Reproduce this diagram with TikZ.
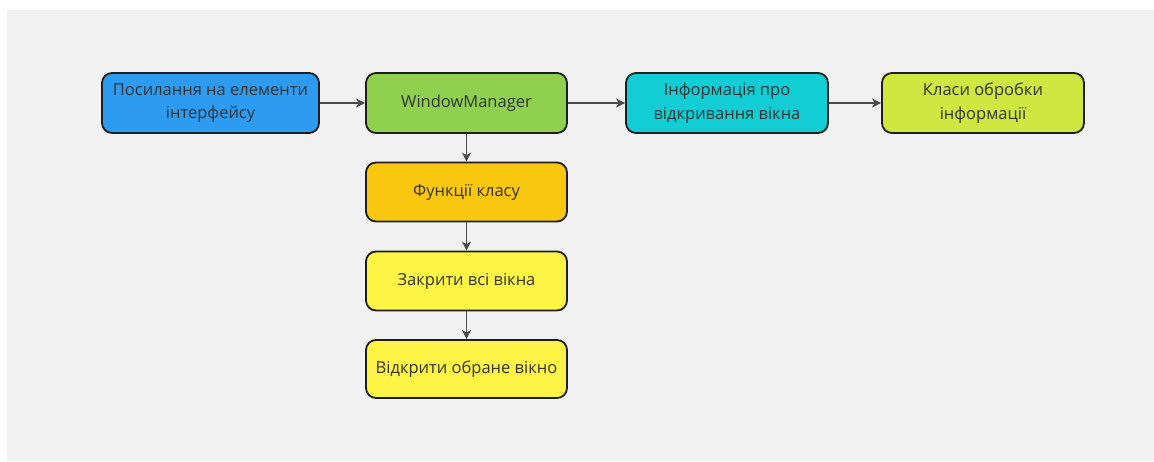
\documentclass[tikz,border=0pt]{standalone}
\usepackage{fontspec}
\setmainfont{Open Sans}
\usetikzlibrary{arrows.meta}
\definecolor{bgray}{HTML}{F1F1F1}
\definecolor{cblue}{HTML}{2D9BF0}
\definecolor{cgreen}{HTML}{8FD14F}
\definecolor{ccyan}{HTML}{12CDD4}
\definecolor{clime}{HTML}{CEE741}
\definecolor{corange}{HTML}{FAC710}
\definecolor{cyellow}{HTML}{FEF445}
\definecolor{ctext}{HTML}{333333}
\definecolor{cedge}{HTML}{1E1E1E}
\definecolor{carrow}{HTML}{4A4A4A}
\tikzset{
  box/.style={draw=cedge, line width=1.8pt, rounded corners=10pt,
    minimum width=#1, text=ctext, align=center, inner sep=0pt,
    font=\fontsize{16.5}{23.5}\selectfont},
  box/.default=201pt,
  link/.style={draw=carrow, line width=1.3pt,
    -{Stealth[length=9pt,width=9pt,inset=2.5pt]}},
}
\begin{document}
\begin{tikzpicture}[x=1pt,y=-1pt]
  \useasboundingbox (0,0) rectangle (1154,461);
  \fill[bgray] (7,10) rectangle (1154,461);

  % top row
  \node[box=217pt, fill=cblue, minimum height=60pt] (refs) at (210.5,103)
    {Посилання на елементи\\інтерфейсу};
  \node[box, fill=cgreen, minimum height=60pt] (wm) at (466.5,103)
    {WindowManager};
  \node[box=202pt, fill=ccyan, minimum height=60pt] (info) at (727,103)
    {Інформація про\\відкривання вікна};
  \node[box=202pt, fill=clime, minimum height=60pt] (proc) at (983,103)
    {Класи обробки\\інформації};

  % column of class functions
  \node[box, fill=corange, minimum height=59pt] (func) at (466.5,192)
    {Функції класу};
  \node[box, fill=cyellow, minimum height=59pt] (close) at (466.5,281)
    {Закрити всі вікна};
  \node[box, fill=cyellow, minimum height=58pt] (open) at (466.5,369)
    {Відкрити обране вікно};

  \draw[link] (refs) -- (wm);
  \draw[link] (wm) -- (info);
  \draw[link] (info) -- (proc);
  \draw[link] (wm) -- (func);
  \draw[link] (func) -- (close);
  \draw[link] (close) -- (open);
\end{tikzpicture}
\end{document}
